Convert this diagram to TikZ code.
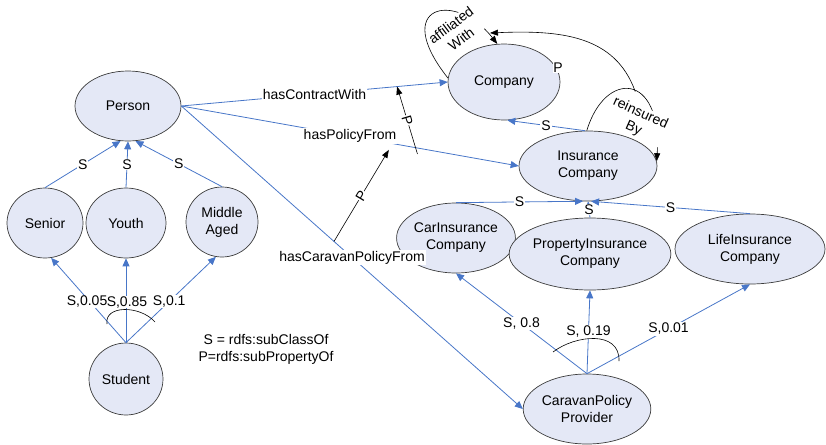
\documentclass[tikz,border=0pt]{standalone}
\usepackage{fontspec}
\setmainfont{Liberation Sans}
\usetikzlibrary{arrows.meta,shapes.geometric,calc}
\definecolor{nodefill}{RGB}{228,232,246}
\definecolor{nodeline}{RGB}{60,60,60}
\definecolor{edgeblue}{RGB}{72,118,200}
\begin{document}
\begin{tikzpicture}[x=1pt,y=-1pt,font=\fontsize{14}{17}\selectfont,
  cls/.style={ellipse,draw=nodeline,fill=nodefill,line width=0.7pt,inner sep=0pt,align=center},
  sub/.style={draw=edgeblue,line width=0.8pt,-{Triangle[length=8pt,width=7pt]}},
  prop/.style={draw=black,line width=0.6pt,-{Triangle[length=8pt,width=6pt]}},
  lbl/.style={fill=white,inner sep=1pt},
  loopln/.style={draw=black,line width=0.6pt}]
\useasboundingbox (0,0) rectangle (826,444);

% classes
\node[cls,minimum width=106pt,minimum height=70pt] (person) at (128,106) {Person};
\node[cls,minimum width=76pt,minimum height=70pt] (senior) at (45,223) {Senior};
\node[cls,minimum width=80pt,minimum height=70pt] (youth) at (126,223) {Youth};
\node[cls,minimum width=72pt,minimum height=70pt] (middle) at (222,222) {Middle\\Aged};
\node[cls,minimum width=74pt,minimum height=72pt] (student) at (126,379) {Student};
\node[cls,minimum width=112pt,minimum height=76pt] (company) at (504,82) {Company};
\node[cls,minimum width=138pt,minimum height=70pt] (insurance) at (588,166) {Insurance\\Company};
\node[cls,minimum width=116pt,minimum height=70pt] (carins) at (456,238) {CarInsurance\\Company};
\node[cls,minimum width=152pt,minimum height=72pt] (propins) at (590,254) {PropertyInsurance\\Company};
\node[cls,minimum width=150pt,minimum height=70pt] (lifeins) at (750,249) {LifeInsurance\\Company};
\node[cls,minimum width=126pt,minimum height=70pt] (caravan) at (587,409) {CaravanPolicy\\Provider};

% legend
\node[align=center] (legend) at (266,349) {S = rdfs:subClassOf\\P=rdfs:subPropertyOf};

% subclass edges (left)
\draw[sub] (senior.north) -- node[lbl]{S} (person.258);
\draw[sub] (youth.north) -- node[lbl]{S} (person.south);
\draw[sub] (middle.north) -- node[lbl]{S} (person.282);
\draw[sub] (student.north) -- node[lbl,inner sep=0pt,pos=0.48,xshift=-3pt]{S,0.05} (senior.-80);
\draw[sub] (student.north) -- node[lbl,inner sep=0pt,pos=0.48,xshift=1pt]{S,0.85} (youth.south);
\draw[sub] (student.north) -- node[lbl,pos=0.48]{S,0.1} (middle.-100);
\draw[loopln] (107,324) .. controls (104,305) and (140,305) .. (155,322);

% subclass edges (right)
\draw[sub] (insurance.95) -- node[lbl]{S} (company.-85);
\draw[sub] (carins.north) -- node[lbl]{S} (insurance.262);
\draw[sub] (lifeins.north) -- node[lbl]{S} (insurance.275);
\draw[sub] (propins.north) -- node[lbl]{S} (insurance.south);
\draw[sub] (caravan.north) -- node[lbl]{S, 0.8} (carins.south);
\draw[sub] (caravan.north) -- node[lbl]{S, 0.19} (propins.south);
\draw[sub] (caravan.north) -- node[lbl]{S,0.01} (lifeins.south);
\draw[loopln] (553,352) .. controls (575,335) and (620,330) .. (619,361);

% properties
\draw[sub] (person.east) -- node[lbl]{hasContractWith} coordinate[pos=0.81] (cw) (company.west);
\draw[sub] (person.east) -- node[lbl]{hasPolicyFrom} coordinate[pos=0.70] (pf) coordinate[pos=0.615] (pf2) (insurance.west);
\draw[sub] (person.east) -- node[lbl]{hasCaravanPolicyFrom} coordinate[pos=0.447] (cp) (caravan.west);

% subproperty arrows
\draw[prop] ([shift={(0,6)}]pf) -- node[lbl,sloped,inner sep=0.5pt]{P} (cw);
\draw[prop] (cp) -- node[lbl,sloped,inner sep=0.5pt]{P} ([shift={(0,7)}]pf2);

% self loops
\draw[prop] (company.176) .. controls (390,5) and (455,-10) .. (company.100);
\node[lbl,inner sep=0.5pt,rotate=37,align=center] (affl) at (456,32) {affiliated\\With};
\draw[prop] (insurance.92) .. controls (605,70) and (662,72) .. coordinate[pos=0.55] (ri) (insurance.4);
\node[lbl,inner sep=0.5pt,rotate=-24,align=center] (reins) at (637,121) {reinsured\\By};
\coordinate (aw) at (490,33);
\draw[prop] (ri) .. controls (615,35) and (560,30) .. (aw);
\node[lbl,inner sep=0.5pt] (pcomp) at (558,68) {P};
\end{tikzpicture}
\end{document}
